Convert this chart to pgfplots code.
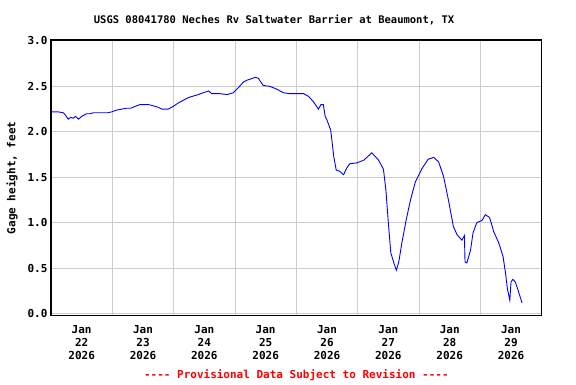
\documentclass[border=0pt]{standalone}
\usepackage{fontspec}
\setmainfont{DejaVu Sans Mono}
\usepackage{pgfplots}
\pgfplotsset{compat=1.18}
\begin{document}
\begin{tikzpicture}
\path[use as bounding box] (0pt,0pt) rectangle (576pt,384pt);
\begin{axis}[
  name=ax,
  at={(51pt,68.3pt)}, anchor=south west,
  width=490.7pt, height=275.7pt, scale only axis,
  xmin=0, xmax=8, ymin=-0.02, ymax=3.01,
  font=\bfseries\fontsize{11}{13}\selectfont,
  /pgf/number format/assume math mode=true,
  ytick={0,0.5,1,1.5,2,2.5,3},
  yticklabel style={/pgf/number format/fixed,/pgf/number format/fixed zerofill,/pgf/number format/precision=1},
  xtick={0.5,1.5,2.5,3.5,4.5,5.5,6.5,7.5},
  xticklabels={Jan\\22\\2026,Jan\\23\\2026,Jan\\24\\2026,Jan\\25\\2026,Jan\\26\\2026,Jan\\27\\2026,Jan\\28\\2026,Jan\\29\\2026},
  xticklabel style={align=center, yshift=-6pt},
  minor xtick={1,2,3,4,5,6,7},
  xminorgrids, ymajorgrids,
  major tick length=0pt, minor tick length=0pt,
  grid style={color=black!20, line width=1pt},
  minor grid style={color=black!20, line width=1pt},
  axis line style={black, line width=1.2pt},
  ylabel={Gage height, feet},
  every axis y label/.style={at={(axis description cs:-0.0795,0.5)}, rotate=90, anchor=center},
  title={USGS 08041780 Neches Rv Saltwater Barrier at Beaumont, TX},
  every axis title/.style={at={(axis description cs:0.4545,1.0725)}, anchor=center, font=\bfseries\fontsize{10.5}{12}\selectfont},
  clip=true,
]
\addplot[color={rgb,255:red,0;green,0;blue,255}, line width=0.9pt] coordinates {
(0.00,2.22) (0.12,2.22) (0.20,2.21) (0.23,2.19) (0.28,2.14) (0.32,2.16) (0.36,2.15) (0.40,2.17)
(0.45,2.14) (0.50,2.17) (0.58,2.20) (0.64,2.20) (0.69,2.21) (0.77,2.21) (0.85,2.21) (0.92,2.21)
(0.99,2.22) (1.07,2.24) (1.15,2.25) (1.23,2.26) (1.30,2.26) (1.37,2.28) (1.45,2.30) (1.52,2.30)
(1.59,2.30) (1.65,2.29) (1.70,2.28) (1.75,2.27) (1.81,2.25) (1.91,2.25) (1.99,2.28) (2.08,2.32)
(2.14,2.34) (2.19,2.36) (2.25,2.38) (2.30,2.39) (2.40,2.41) (2.48,2.43) (2.57,2.45) (2.62,2.42)
(2.70,2.42) (2.76,2.42) (2.87,2.41) (2.97,2.43) (3.06,2.49) (3.14,2.55) (3.20,2.57) (3.25,2.58)
(3.33,2.60) (3.38,2.59) (3.41,2.56) (3.46,2.51) (3.57,2.50) (3.68,2.47) (3.79,2.43) (3.90,2.42)
(4.03,2.42) (4.12,2.42) (4.20,2.39) (4.28,2.33) (4.36,2.25) (4.40,2.30) (4.44,2.30) (4.47,2.17)
(4.50,2.13) (4.56,2.02) (4.61,1.73) (4.65,1.58) (4.70,1.57) (4.77,1.53) (4.82,1.60) (4.87,1.65)
(4.99,1.66) (5.10,1.69) (5.23,1.77) (5.34,1.69) (5.42,1.59) (5.46,1.36) (5.50,1.00) (5.54,0.67)
(5.60,0.54) (5.63,0.48) (5.67,0.57) (5.72,0.78) (5.79,1.03) (5.86,1.25) (5.94,1.45) (6.05,1.60)
(6.15,1.70) (6.24,1.72) (6.32,1.67) (6.40,1.51) (6.48,1.25) (6.56,0.96) (6.62,0.87) (6.70,0.81)
(6.74,0.86) (6.75,0.57) (6.78,0.56) (6.84,0.70) (6.88,0.89) (6.94,1.00) (7.03,1.03) (7.08,1.09)
(7.15,1.06) (7.22,0.90) (7.30,0.78) (7.37,0.63) (7.41,0.45) (7.44,0.28) (7.48,0.15) (7.50,0.35)
(7.53,0.38) (7.57,0.35) (7.61,0.27) (7.68,0.12)
};
\end{axis}
\node[font=\bfseries\fontsize{11}{13}\selectfont, text={rgb,255:red,255;green,0;blue,0}, anchor=center]
  at (296.35pt,9pt) {-{}-{}-{}- Provisional Data Subject to Revision -{}-{}-{}-};
\end{tikzpicture}
\end{document}
